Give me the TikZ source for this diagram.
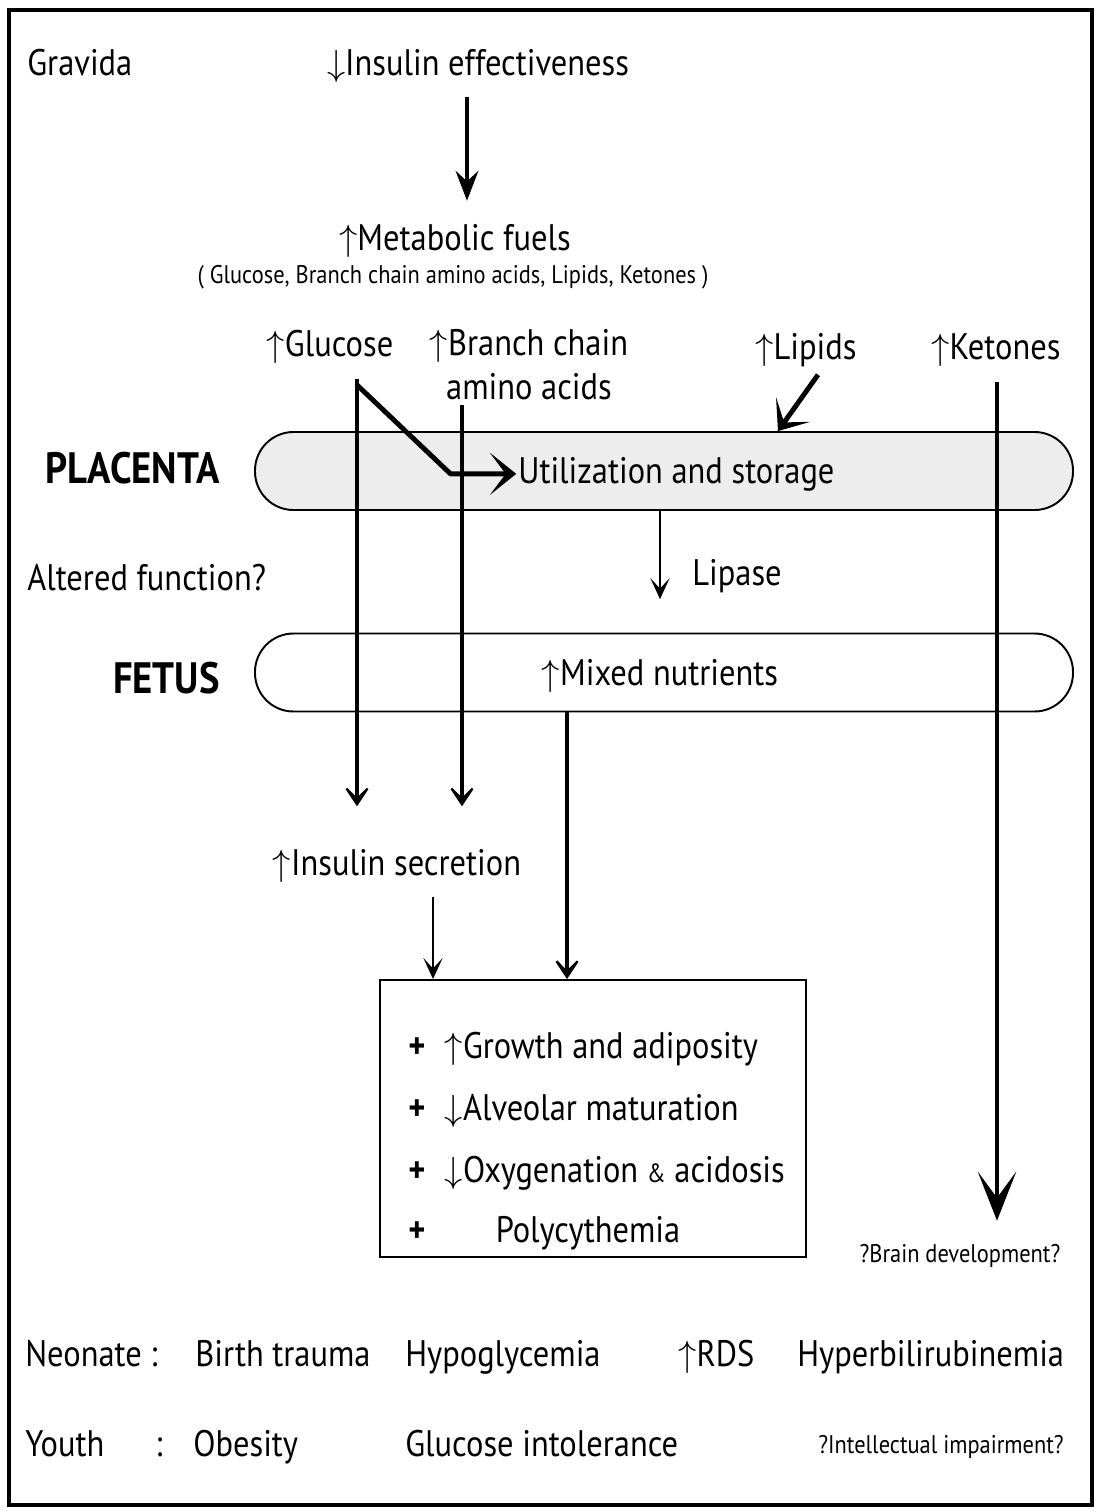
\documentclass[tikz,border=0pt]{standalone}
\usepackage{fontspec}
\setmainfont{PT Sans}[FakeStretch=0.88]
\usetikzlibrary{arrows.meta, positioning}

\begin{document}
\begin{tikzpicture}[x=0.2mm, y=-0.2mm,
    every node/.style={inner sep=0pt, font=\fontsize{21}{25}\selectfont},
    lbl/.style={anchor=base west},
    ctr/.style={anchor=base},
    small/.style={font=\fontsize{14.5}{17}\selectfont},
    organ/.style={anchor=base east, font=\fontsize{25}{29}\selectfont\bfseries},
    band/.style={draw, line width=1.1pt, rounded corners=7.7mm,
                 minimum width=163.6mm, minimum height=15.6mm},
    flow/.style={line width=1.8pt, -{Stealth[length=17pt, width=13pt, inset=6pt]}},
    feed/.style={line width=1.8pt, -{Stealth[length=15pt, width=20pt, inset=10pt]}},
    thin/.style={line width=1.1pt, -{Stealth[length=12pt, width=11pt, inset=6pt]}},
    heavy/.style={line width=2.8pt, -{Stealth[length=15pt, width=24pt, inset=9pt]}},
]
    \useasboundingbox (0,0) rectangle (1099,1511);
    \draw[line width=2pt] (9,10) rectangle (1092,1505);

    % columns of the long connectors
    \coordinate (colF) at (467,0);
    \coordinate (colG) at (357,0);
    \coordinate (colB) at (462,0);
    \coordinate (colP) at (778,0);
    \coordinate (colK) at (997,0);
    \coordinate (colL) at (660,0);
    \coordinate (colM) at (567,0);
    \coordinate (colI) at (433,0);

    % mother
    \node[lbl] (gravida) at (27,75) {Gravida};
    \node[ctr] (ineff) at (478,75) {$\downarrow$Insulin effectiveness};
    \node[ctr] (fuels) at (455,250) {$\uparrow$Metabolic fuels};
    \node[ctr, small] (fuellist) at (453,283) {( Glucose, Branch chain amino acids, Lipids, Ketones )};

    \node[ctr] (gluc) at (330,356) {$\uparrow$Glucose};
    \node[ctr, align=center] (bcaa) at (529,399) {$\uparrow$Branch chain\\amino acids};
    \node[ctr] (lipids) at (806,359) {$\uparrow$Lipids};
    \node[ctr] (ket) at (996,359) {$\uparrow$Ketones};

    % placenta and fetus
    \node[band, fill=black!7] (placenta) at (664,471) {};
    \node[organ] (plac) at (220,483) {PLACENTA};
    \node[lbl] (util) at (518,483) {Utilization and storage};

    \node[lbl] (altered) at (27,590) {Altered function?};
    \node[lbl] (lipase) at (692,585) {Lipase};

    \node[band, fill=white] (fetus) at (664,672.5) {};
    \node[organ] (fet) at (220,693) {FETUS};
    \node[ctr] (mixed) at (660,685) {$\uparrow$Mixed nutrients};

    \node[ctr] (insec) at (397,875) {$\uparrow$Insulin secretion};

    \node[draw, line width=1.1pt, minimum width=85.2mm, minimum height=55.4mm] (effects) at (593,1118.5) {};
    \node[lbl] (e1) at (408,1058) {\textbf{+}\hspace{11pt}$\uparrow$Growth and adiposity};
    \node[lbl] (e2) at (408,1120) {\textbf{+}\hspace{11pt}$\downarrow$Alveolar maturation};
    \node[lbl] (e3) at (408,1182) {\textbf{+}\hspace{11pt}$\downarrow$Oxygenation {\fontsize{15}{17}\selectfont\&} acidosis};
    \node[lbl] (e4) at (408,1242) {\textbf{+}\hspace{40pt}Polycythemia};

    \node[ctr, small] (brain) at (960,1262) {?Brain development?};

    % outcomes
    \node[lbl] (neonate) at (25,1366) {Neonate :};
    \node[lbl] (trauma) at (195,1366) {Birth trauma};
    \node[lbl] (hypo) at (405,1366) {Hypoglycemia};
    \node[lbl] (rds) at (678,1366) {$\uparrow$RDS};
    \node[lbl] (bili) at (797,1366) {Hyperbilirubinemia};

    \node[lbl] (youth) at (25,1456) {Youth};
    \node[lbl] (colon) at (155,1456) {:};
    \node[lbl] (obese) at (193,1456) {Obesity};
    \node[lbl] (intol) at (405,1456) {Glucose intolerance};
    \node[lbl, small] (intel) at (818,1453) {?Intellectual impairment?};

    % connectors
    \draw[flow, shorten <=8pt, shorten >=13pt] (ineff.south -| colF) -- (fuels.north -| colF);
    \draw[feed, shorten <=9pt, shorten >=24pt] (gluc.south -| colG) -- (insec.north -| colG);
    \draw[feed, shorten <=3pt, shorten >=24pt] (bcaa.south -| colB) -- (insec.north -| colB);
    \draw[heavy, line join=round] ([yshift=-4.3mm]gluc.south -| colG) -- ([xshift=-13.5mm]util.west) -- ([xshift=-1pt]util.west);
    \draw[heavy] ([xshift=2.4mm, yshift=-1.6mm]lipids.south) -- (placenta.north -| colP);
    \draw[line width=1.8pt, -{Stealth[length=28pt, width=22pt, inset=15pt]}, shorten <=9pt, shorten >=13pt]
        (ket.south -| colK) -- (brain.north -| colK);
    \draw[thin, shorten >=19pt] (placenta.south -| colL) -- (fetus.north -| colL);
    \draw[feed] (fetus.south -| colM) -- (effects.north -| colM);
    \draw[thin, shorten <=8pt] (insec.south -| colI) -- (effects.north -| colI);
\end{tikzpicture}
\end{document}
